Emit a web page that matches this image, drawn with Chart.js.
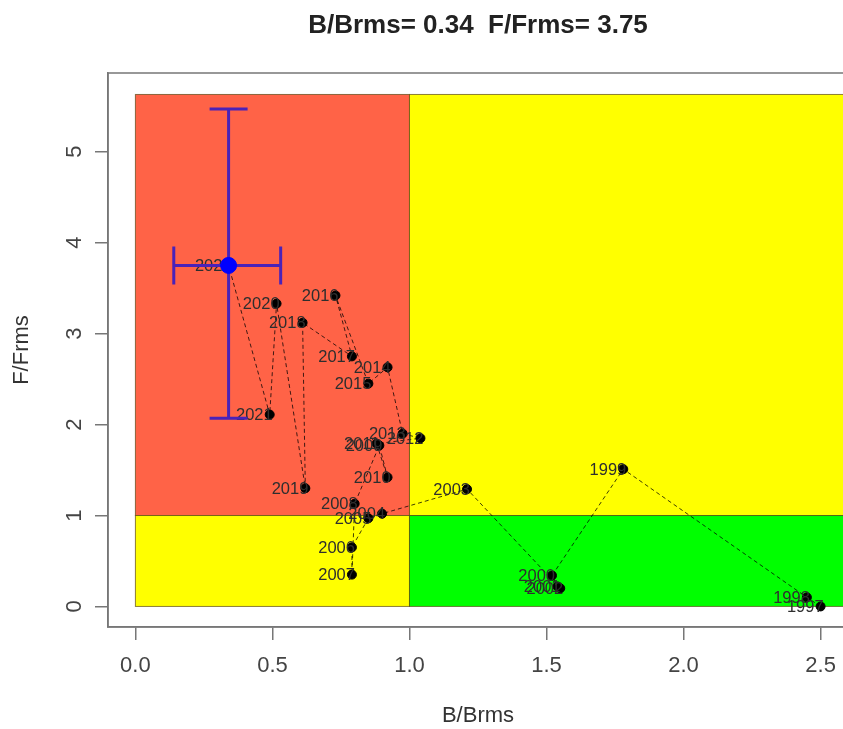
<!DOCTYPE html>
<html>
<head>
<meta charset="utf-8">
<script src="https://cdn.jsdelivr.net/npm/chart.js@4.4.0/dist/chart.umd.min.js"></script>
<style>
  html, body { margin: 0; padding: 0; background: #fff; overflow: hidden; }
  #wrap { width: 860px; height: 729px; }
</style>
</head>
<body>
<div id="wrap"><canvas id="kobe" width="860" height="729"></canvas></div>
<script>
'use strict';

// stock trajectory
var years  = [1997, 1998, 1999, 2000, 2001, 2002, 2003, 2004, 2005, 2006, 2007, 2008, 2009,
              2010, 2011, 2012, 2013, 2014, 2015, 2016, 2017, 2018, 2019, 2020, 2021, 2022];
var bRatio = [2.50, 2.45, 1.78, 1.52, 1.54, 1.55, 1.21, 0.90, 0.85, 0.79, 0.79, 0.80, 0.89,
              0.92, 0.88, 1.04, 0.975, 0.92, 0.85, 0.73, 0.79, 0.61, 0.62, 0.515, 0.49, 0.34];
var fRatio = [0.00, 0.10, 1.51, 0.34, 0.22, 0.20, 1.29, 1.02, 0.97, 0.65, 0.35, 1.13, 1.77,
              1.42, 1.79, 1.85, 1.90, 2.63, 2.45, 3.42, 2.75, 3.12, 1.30, 3.33, 2.11, 3.75];

// last year with its uncertainty
var currentB = 0.34;
var currentF = 3.75;
var bRange = [0.14, 0.53];
var fRange = [2.07, 5.47];

var xTicks = [0, 0.5, 1, 1.5, 2, 2.5];
var xTickLabels = ['0.0', '0.5', '1.0', '1.5', '2.0', '2.5'];
var yTicks = [0, 1, 2, 3, 4, 5];
var yTickLabels = ['0', '1', '2', '3', '4', '5'];

var zoneTop = 5.63;
var zoneRight = 2.6;

var mainTitle = 'B/Brms= 0.34  F/Frms= 3.75';
var FONT = "'Liberation Sans', Arial, sans-serif";

Chart.defaults.font.family = FONT;

var trajectory = [];
for (var i = 0; i < years.length; i++) {
  trajectory.push({ x: bRatio[i], y: fRatio[i] });
}

//coloured quadrants behind the points
var zonesPlugin = {
  id: 'zones',
  beforeDatasetsDraw: function(chart) {
    var ctx = chart.ctx, x = chart.scales.x, y = chart.scales.y;
    function zone(x0, y0, x1, y1, color) {
      var l = x.getPixelForValue(x0), r = x.getPixelForValue(x1);
      var t = y.getPixelForValue(y1), b = y.getPixelForValue(y0);
      ctx.fillStyle = color;
      ctx.fillRect(l, t, r - l, b - t);
      ctx.strokeRect(l, t, r - l, b - t);
    }
    ctx.save();
    ctx.strokeStyle = 'rgba(90,70,20,0.7)';
    ctx.lineWidth = 1;
    zone(0, 1, 1, zoneTop, '#ff6347');
    zone(1, 1, zoneRight, zoneTop, '#ffff00');
    zone(0, 0, 1, 1, '#ffff00');
    zone(1, 0, zoneRight, 1, '#00ff00');
    ctx.restore();
  },
  afterDatasetDraw: function(chart, args) {
    if (args.index !== 1) return;
    var ctx = chart.ctx, x = chart.scales.x, y = chart.scales.y;
    // year labels
    ctx.save();
    ctx.fillStyle = '#2e2e2e';
    ctx.font = '16.5px ' + FONT;
    ctx.textAlign = 'right';
    ctx.textBaseline = 'middle';
    for (var i = 0; i < years.length; i++) {
      ctx.fillText(String(years[i]), x.getPixelForValue(bRatio[i]) + 3, y.getPixelForValue(fRatio[i]) + 1);
    }
    // error bars of the last year
    var cx = x.getPixelForValue(currentB), cy = y.getPixelForValue(currentF);
    var cap = 19;
    ctx.strokeStyle = '#4a22b8';
    ctx.lineWidth = 3;
    ctx.beginPath();
    var yt = y.getPixelForValue(fRange[1]), yb = y.getPixelForValue(fRange[0]);
    var xl = x.getPixelForValue(bRange[0]), xr = x.getPixelForValue(bRange[1]);
    ctx.moveTo(cx, yt); ctx.lineTo(cx, yb);
    ctx.moveTo(cx - cap, yt); ctx.lineTo(cx + cap, yt);
    ctx.moveTo(cx - cap, yb); ctx.lineTo(cx + cap, yb);
    ctx.moveTo(xl, cy); ctx.lineTo(xr, cy);
    ctx.moveTo(xl, cy - cap); ctx.lineTo(xl, cy + cap);
    ctx.moveTo(xr, cy - cap); ctx.lineTo(xr, cy + cap);
    ctx.stroke();
    ctx.restore();
  },
  afterDraw: function(chart) {
    var ctx = chart.ctx, a = chart.chartArea, y = chart.scales.y;
    ctx.save();
    ctx.strokeStyle = '#777';
    ctx.lineWidth = 1.5;
    ctx.strokeRect(a.left, a.top, a.right - a.left, a.bottom - a.top);
    // R style vertical tick labels
    ctx.fillStyle = '#444';
    ctx.font = '22px ' + FONT;
    ctx.textAlign = 'center';
    ctx.textBaseline = 'middle';
    for (var i = 0; i < yTicks.length; i++) {
      ctx.save();
      ctx.translate(75, y.getPixelForValue(yTicks[i]));
      ctx.rotate(-Math.PI / 2);
      ctx.fillText(yTickLabels[i], 0, 0);
      ctx.restore();
    }
    // main title centred over the plot region
    ctx.fillStyle = '#222';
    ctx.font = 'bold 26px ' + FONT;
    ctx.fillText(mainTitle, (a.left + a.right) / 2, 26);
    ctx.restore();
  }
};

var ctx = document.getElementById('kobe').getContext('2d');

var kobe = new Chart(ctx, {
  type: 'scatter',
  data: {
    datasets: [{
      label: 'current',
      data: [{ x: currentB, y: currentF }],
      pointRadius: 8,
      backgroundColor: '#0000ff',
      borderColor: '#0000ff'
    }, {
      label: 'trajectory',
      data: trajectory,
      showLine: true,
      borderColor: 'rgba(0,0,0,0.75)',
      borderWidth: 1,
      borderDash: [4, 3],
      pointRadius: 4.5,
      pointBackgroundColor: '#000',
      pointBorderColor: '#000',
      tension: 0
    }]
  },
  options: {
    responsive: false,
    animation: false,
    layout: { padding: { left: 0, right: 12, top: 73, bottom: 0 } },
    plugins: {
      legend: { display: false },
      tooltip: { enabled: false },
      title: { display: false }
    },
    scales: {
      x: {
        type: 'linear',
        min: -0.1,
        max: 2.6,
        afterBuildTicks: function(scale) {
          scale.ticks = xTicks.map(function(v) { return { value: v }; });
        },
        afterFit: function(scale) { scale.height = 102; },
        ticks: {
          callback: function(v, i) { return xTickLabels[i]; },
          color: '#444',
          font: { size: 22 },
          padding: 13,
          maxRotation: 0
        },
        grid: { drawOnChartArea: false, drawTicks: true, tickLength: 13, color: '#777', lineWidth: 1.5 },
        border: { display: true, color: '#777', width: 1.5 },
        title: { display: true, text: 'B/Brms', color: '#333', font: { size: 22 }, padding: { top: 0, bottom: 0 } }
      },
      y: {
        type: 'linear',
        min: -0.226,
        max: 5.866,
        afterBuildTicks: function(scale) {
          scale.ticks = yTicks.map(function(v) { return { value: v }; });
        },
        afterFit: function(scale) { scale.width = 108; },
        ticks: { display: false },
        grid: { drawOnChartArea: false, drawTicks: true, tickLength: 13, color: '#777', lineWidth: 1.5 },
        border: { display: true, color: '#777', width: 1.5 },
        title: { display: true, text: 'F/Frms', color: '#333', font: { size: 22 }, padding: { top: 9, bottom: 0 } }
      }
    }
  },
  plugins: [zonesPlugin]
});
</script>
</body>
</html>
